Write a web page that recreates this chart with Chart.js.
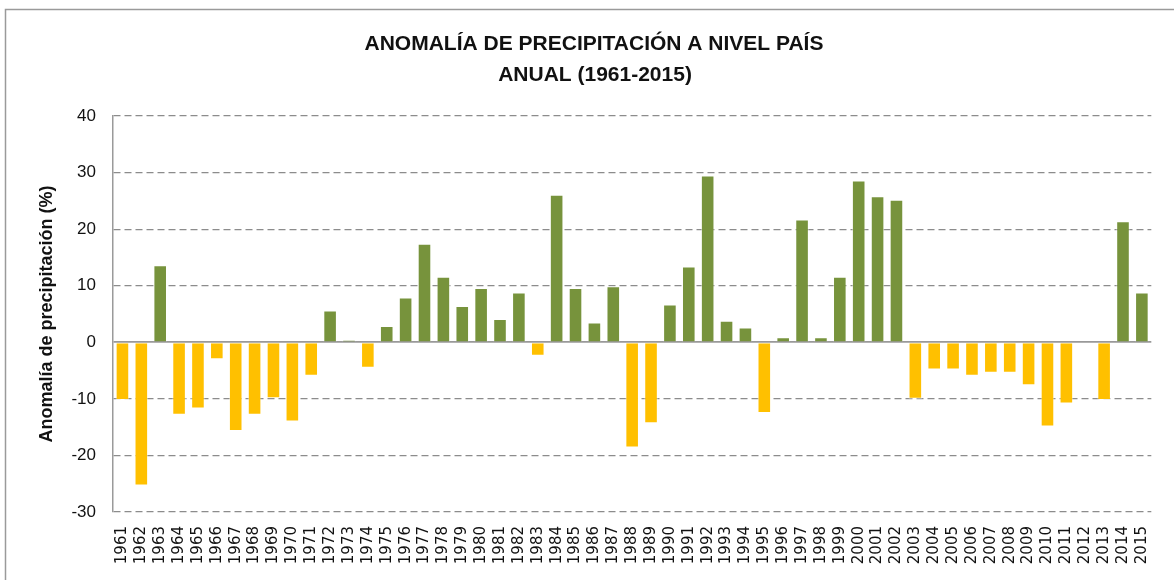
<!DOCTYPE html>
<html>
<head>
<meta charset="utf-8">
<script src="https://cdn.jsdelivr.net/npm/chart.js@4"></script>
<style>
  html, body { margin: 0; padding: 0; background: #fff; }
  #wrap { width: 1174px; height: 580px; }
</style>
</head>
<body>
<div id="wrap"><canvas id="anomalyChart" width="1174" height="580"></canvas></div>
<script>
// Data
const titleLines = ['ANOMALÍA DE PRECIPITACIÓN A NIVEL PAÍS', 'ANUAL (1961-2015)'];
const yAxisTitle = 'Anomalía de precipitación (%)';
const years = [
  '1961', '1962', '1963', '1964', '1965', '1966', '1967', '1968', '1969', '1970',
  '1971', '1972', '1973', '1974', '1975', '1976', '1977', '1978', '1979', '1980',
  '1981', '1982', '1983', '1984', '1985', '1986', '1987', '1988', '1989', '1990',
  '1991', '1992', '1993', '1994', '1995', '1996', '1997', '1998', '1999', '2000',
  '2001', '2002', '2003', '2004', '2005', '2006', '2007', '2008', '2009', '2010',
  '2011', '2012', '2013', '2014', '2015'
];
const anomaly = [
  -10.2, -25.3, 13.6, -12.8, -11.7, -3.0, -15.7, -12.8, -9.9, -14.0,
  -5.9, 5.6, 0.4, -4.5, 2.9, 7.9, 17.4, 11.6, 6.4, 9.6,
  4.1, 8.8, -2.4, 26.1, 9.6, 3.5, 9.9, -18.6, -14.3, 6.7,
  13.4, 29.5, 3.8, 2.6, -12.5, 0.9, 21.7, 0.9, 11.6, 28.6,
  25.8, 25.2, -10.0, -4.8, -4.8, -5.9, -5.4, -5.4, -7.6, -14.9,
  -10.8, 0, -10.2, 21.4, 8.8
];
const yTicks = [-30, -20, -10, 0, 10, 20, 30, 40];

const positiveColor = '#77933C';
const negativeColor = '#FFC000';

// white background, grey frame of the chart box, and the two-line title
const framePlugin = {
  id: 'frame',
  beforeDraw(chart) {
    const ctx = chart.ctx;
    ctx.save();
    ctx.fillStyle = '#fff';
    ctx.fillRect(0, 0, chart.width, chart.height);
    ctx.strokeStyle = '#9a9a9a';
    ctx.lineWidth = 1.5;
    ctx.strokeRect(5.5, 9.5, chart.width + 20, chart.height + 20);

    ctx.fillStyle = '#111';
    ctx.font = 'bold 21px "Liberation Sans", Arial, sans-serif';
    ctx.textAlign = 'center';
    ctx.textBaseline = 'middle';
    ctx.fillText(titleLines[0], 594, 44);
    ctx.fillText(titleLines[1], 595, 75);
    ctx.restore();
  }
};

const ctx = document.getElementById('anomalyChart').getContext('2d');

const myChart = new Chart(ctx, {
  type: 'bar',
  data: {
    labels: years,
    datasets: [{
      label: 'Anomalía',
      data: anomaly,
      backgroundColor: (c) => (c.raw >= 0 ? positiveColor : negativeColor),
      borderColor: 'rgba(255,255,255,0.45)',
      borderWidth: 1,
      barPercentage: 0.72,
      categoryPercentage: 1.0
    }]
  },
  options: {
    responsive: false,
    animation: false,
    layout: { padding: { left: 0, right: 14, top: 116, bottom: 0 } },
    plugins: {
      legend: { display: false },
      tooltip: { enabled: false },
      title: { display: false }
    },
    scales: {
      x: {
        grid: { display: false, drawTicks: false },
        border: { display: false },
        ticks: {
          autoSkip: false,
          minRotation: 90,
          maxRotation: 90,
          padding: 14,
          color: '#111',
          font: { family: 'DejaVu Sans, sans-serif', size: 15 }
        },
        afterFit: (scale) => { scale.height = 68; }
      },
      y: {
        min: -30,
        max: 40,
        afterBuildTicks: (scale) => { scale.ticks = yTicks.map(v => ({ value: v })); },
        grid: {
          drawTicks: false,
          color: (c) => (c.tick && c.tick.value === 0 ? '#999' : '#8c8c8c'),
          lineWidth: (c) => (c.tick && c.tick.value === 0 ? 1.8 : 1.2)
        },
        border: {
          display: true,
          color: '#9a9a9a',
          width: 1.5,
          dash: (c) => (c.type === 'tick' && c.tick.value !== 0 ? [7, 4] : [])
        },
        ticks: {
          padding: 17,
          color: '#111',
          font: { family: 'Liberation Sans, Arial, sans-serif', size: 17 }
        },
        title: {
          display: true,
          text: yAxisTitle,
          color: '#111',
          font: { family: 'Liberation Sans, Arial, sans-serif', size: 18, weight: 'bold' },
          padding: { top: 36, bottom: 0 }
        },
        afterFit: (scale) => { scale.width = 113; }
      }
    }
  },
  plugins: [framePlugin]
});
</script>
</body>
</html>
